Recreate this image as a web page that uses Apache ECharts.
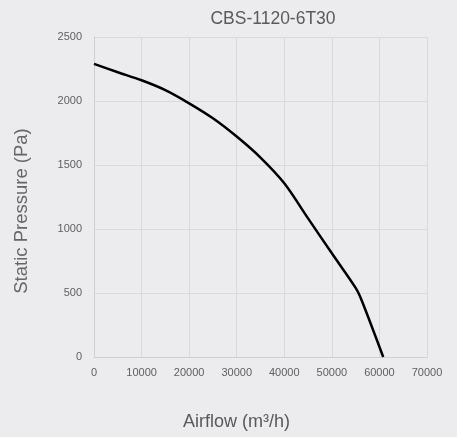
<!DOCTYPE html>
<html><head><meta charset="utf-8">
<script src="https://cdn.jsdelivr.net/npm/echarts@6/dist/echarts.min.js"></script>
<style>html,body{margin:0;padding:0;background:#ececee;}#c{width:457px;height:437px;}</style>
</head><body><div id="c"></div>
<script>
var titleText = "CBS-1120-6T30";
var xName = "Airflow (m³/h)";
var yName = "Static Pressure (Pa)";
var airflow  = [0, 5000, 10000, 15000, 20000, 25000, 30000, 35000, 40000, 45000, 50000, 55000, 56300, 60800];
var pressure = [2290, 2225, 2162, 2085, 1982, 1865, 1722, 1558, 1357, 1083, 810, 540, 440, 0];

var chart = echarts.init(document.getElementById('c'));
chart.setOption({
  backgroundColor: '#ececee',
  animation: false,
  title: {text: titleText, left: 268, top: 5, textAlign: 'center',
    textStyle: {fontFamily: 'Liberation Sans', fontSize: 17.5, fontWeight: 'normal', color: '#5a5a5a'}},
  grid: {left: 94, right: 30, top: 37, bottom: 80},
  xAxis: {type: 'value', min: 0, max: 70000, interval: 10000,
    name: xName, nameLocation: 'middle', nameGap: 56,
    nameTextStyle: {fontFamily: 'Liberation Sans', fontSize: 18, color: '#595959', padding: [0, 48, 0, 0]},
    axisLine: {lineStyle: {color: '#cfcfcf', width: 1}},
    axisTick: {show: false},
    axisLabel: {fontFamily: 'Liberation Sans', fontSize: 11, color: '#5f5f5f', margin: 10,
      formatter: function(v){return String(v);}},
    splitLine: {show: true, lineStyle: {color: '#d9d9d9', width: 1}}},
  yAxis: {type: 'value', min: 0, max: 2500, interval: 500,
    name: yName, nameLocation: 'middle', nameGap: 63, nameRotate: 90,
    nameTextStyle: {fontFamily: 'Liberation Sans', fontSize: 18.5, color: '#666666', padding: [0, 28, 0, 0]},
    axisLine: {show: true, lineStyle: {color: '#cfcfcf', width: 1}},
    axisTick: {show: false},
    axisLabel: {fontFamily: 'Liberation Sans', fontSize: 11, color: '#5f5f5f', margin: 12,
      formatter: function(v){return String(v);}},
    splitLine: {show: true, lineStyle: {color: '#d9d9d9', width: 1}}},
  series: [{type: 'line', data: airflow.map(function(x, i){return [x, pressure[i]];}),
    smooth: 0.3, showSymbol: false, lineStyle: {color: '#000', width: 2.5}}]
});
</script></body></html>
